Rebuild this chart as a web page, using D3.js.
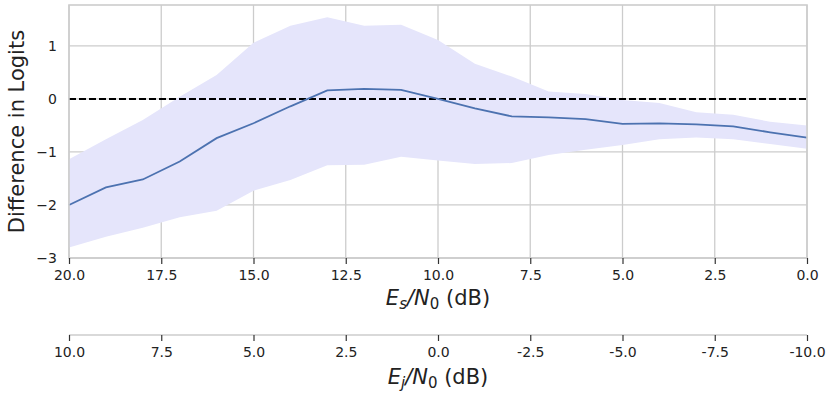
<!DOCTYPE html>
<html>
<head>
<meta charset="utf-8">
<script src="https://cdn.jsdelivr.net/npm/d3@7"></script>
<style>
body{margin:0;background:#fff}
text{font-family:"DejaVu Sans",sans-serif}
</style>
</head>
<body>
<svg id="chart" width="830" height="396"></svg>
<script>
// Es/N0 values (dB)
var esn0 = [20,19,18,17,16,15,14,13,12,11,10,9,8,7,6,5,4,3,2,1,0]
var meanDiff = [-2.0,-1.67,-1.52,-1.18,-0.74,-0.46,-0.14,0.16,0.19,0.17,0.0,-0.18,-0.33,-0.35,-0.38,-0.47,-0.46,-0.48,-0.52,-0.63,-0.73]
var upperBand = [-1.14,-0.76,-0.40,0.04,0.45,1.06,1.38,1.54,1.38,1.40,1.11,0.66,0.42,0.14,0.09,-0.02,-0.08,-0.25,-0.30,-0.43,-0.50]
var lowerBand = [-2.80,-2.60,-2.43,-2.23,-2.11,-1.73,-1.53,-1.25,-1.24,-1.09,-1.16,-1.23,-1.21,-1.06,-0.96,-0.87,-0.76,-0.73,-0.76,-0.85,-0.94]
var xTicks = [20,17.5,15,12.5,10,7.5,5,2.5,0]
var yTicks = [-3,-2,-1,0,1]
var ejTicks = [10,7.5,5,2.5,0,-2.5,-5,-7.5,-10]

function drawChart(){
    var svg = d3.select("#chart")
    var left = 69, right = 807, plotTop = 5, bottom = 258
    var x = d3.scaleLinear().domain([20,0]).range([left,right])
    var y = d3.scaleLinear().domain([-3,1.77]).range([bottom,plotTop])
    var x2 = d3.scaleLinear().domain([10,-10]).range([left,right])

    var gridColor = "#cccccc"
    var tickFont = 14, titleFont = 21, subFont = 15

    // grid
    svg.selectAll(".vgrid").data(xTicks).enter().append("line")
        .attr("x1",function(d){return x(d)}).attr("x2",function(d){return x(d)})
        .attr("y1",plotTop).attr("y2",bottom)
        .attr("stroke",gridColor).attr("stroke-width",1.3)
    svg.selectAll(".hgrid").data(yTicks).enter().append("line")
        .attr("x1",left).attr("x2",right)
        .attr("y1",function(d){return y(d)}).attr("y2",function(d){return y(d)})
        .attr("stroke",gridColor).attr("stroke-width",1.3)

    // band
    var pts = esn0.map(function(d,i){return {x:d,lo:lowerBand[i],hi:upperBand[i],m:meanDiff[i]}})
    svg.append("path").datum(pts)
        .attr("d",d3.area().x(function(d){return x(d.x)}).y0(function(d){return y(d.lo)}).y1(function(d){return y(d.hi)}))
        .attr("fill","#e5e5fb")

    // zero line
    svg.append("line").attr("x1",left).attr("x2",right).attr("y1",y(0)).attr("y2",y(0))
        .attr("stroke","#000").attr("stroke-width",2).attr("stroke-dasharray","7,3")

    // mean line
    svg.append("path").datum(pts)
        .attr("d",d3.line().x(function(d){return x(d.x)}).y(function(d){return y(d.m)}))
        .attr("fill","none").attr("stroke","#4c72b0").attr("stroke-width",1.8)

    // frame
    svg.append("rect").attr("x",left).attr("y",plotTop).attr("width",right-left).attr("height",bottom-plotTop)
        .attr("fill","none").attr("stroke",gridColor).attr("stroke-width",1.6)

    // x axis
    var xAxis = svg.append("g").attr("transform","translate(0,"+bottom+")")
        .call(d3.axisBottom(x).tickValues(xTicks).tickFormat(d3.format(".1f")).tickSize(6).tickPadding(6))
    xAxis.select(".domain").remove()
    xAxis.selectAll("line").attr("stroke","#333").attr("stroke-width",1.2)
    xAxis.selectAll("text").attr("font-size",tickFont).attr("fill","#222")

    // y axis labels
    svg.selectAll(".ylab").data(yTicks).enter().append("text")
        .attr("x",57).attr("y",function(d){return y(d)})
        .attr("dy","0.35em").attr("text-anchor","end")
        .attr("font-size",tickFont).attr("fill","#222")
        .text(function(d){return d<0 ? "\u2212"+Math.abs(d) : d})

    svg.append("text").attr("transform","translate(24,"+((plotTop+bottom)/2)+") rotate(-90)")
        .attr("text-anchor","middle").attr("font-size",titleFont).attr("fill","#222")
        .text("Difference in Logits")

    var t1 = svg.append("text").attr("x",(left+right)/2).attr("y",305)
        .attr("text-anchor","middle").attr("font-size",titleFont).attr("fill","#222")
    t1.append("tspan").attr("font-style","italic").text("E")
    t1.append("tspan").attr("font-style","italic").attr("font-size",subFont).attr("dy",4).text("s")
    t1.append("tspan").attr("font-style","italic").attr("dy",-4).text("/N")
    t1.append("tspan").attr("font-size",subFont).attr("dy",4).text("0")
    t1.append("tspan").attr("dy",-4).text(" (dB)")

    // second axis
    var ej = 335
    svg.append("line").attr("x1",left).attr("x2",right).attr("y1",ej).attr("y2",ej)
        .attr("stroke",gridColor).attr("stroke-width",1.6)
    var x2Axis = svg.append("g").attr("transform","translate(0,"+ej+")")
        .call(d3.axisBottom(x2).tickValues(ejTicks).tickFormat(function(d){return d.toFixed(1)}).tickSize(6).tickPadding(6))
    x2Axis.select(".domain").remove()
    x2Axis.selectAll("line").attr("stroke","#333").attr("stroke-width",1.2)
    x2Axis.selectAll("text").attr("font-size",tickFont).attr("fill","#222")

    var t2 = svg.append("text").attr("x",(left+right)/2).attr("y",384)
        .attr("text-anchor","middle").attr("font-size",titleFont).attr("fill","#222")
    t2.append("tspan").attr("font-style","italic").text("E")
    t2.append("tspan").attr("font-style","italic").attr("font-size",subFont).attr("dy",4).text("j")
    t2.append("tspan").attr("font-style","italic").attr("dy",-4).text("/N")
    t2.append("tspan").attr("font-size",subFont).attr("dy",4).text("0")
    t2.append("tspan").attr("dy",-4).text(" (dB)")
}
drawChart()
</script>
</body>
</html>
